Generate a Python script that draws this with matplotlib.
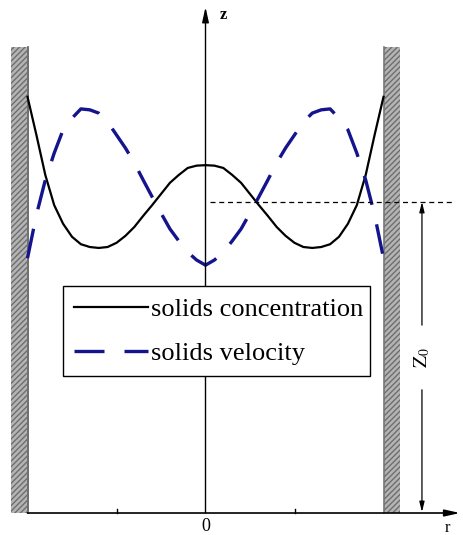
import matplotlib
matplotlib.use("Agg")
import matplotlib.pyplot as plt
from matplotlib.patches import Rectangle

plt.rcParams["font.family"] = ["Liberation Serif", "DejaVu Serif"]
plt.rcParams["mathtext.fontset"] = "stix"

# radial position (r / R) and profiles (z / H)
r = [-1.0, -0.95, -0.9, -0.85, -0.8, -0.75, -0.7, -0.65, -0.6, -0.55, -0.5, -0.45, -0.4,
     -0.35, -0.3, -0.25, -0.2, -0.15, -0.1, -0.05, 0.0,
     0.05, 0.1, 0.15, 0.2, 0.25, 0.3, 0.35, 0.4, 0.45, 0.5, 0.55, 0.6,
     0.65, 0.7, 0.75, 0.8, 0.85, 0.9, 0.95, 1.0]
concentration = [0.895, 0.813, 0.727, 0.662, 0.622, 0.594, 0.578, 0.572, 0.570, 0.572, 0.581, 0.596, 0.615,
                 0.639, 0.662, 0.686, 0.710, 0.727, 0.742, 0.747, 0.748,
                 0.747, 0.742, 0.727, 0.710, 0.686, 0.662, 0.639, 0.615, 0.596, 0.581, 0.572, 0.570,
                 0.572, 0.578, 0.594, 0.622, 0.662, 0.727, 0.813, 0.895]
velocity = [0.548, 0.641, 0.716, 0.774, 0.824, 0.849, 0.869, 0.867, 0.860, 0.841, 0.813, 0.785, 0.753,
            0.716, 0.680, 0.645, 0.611, 0.585, 0.561, 0.544, 0.533,
            0.544, 0.561, 0.585, 0.611, 0.645, 0.680, 0.716, 0.753, 0.785, 0.813, 0.841, 0.860,
            0.867, 0.869, 0.849, 0.824, 0.774, 0.716, 0.641, 0.548]

z0 = 0.669
r_ticks = [-0.5, 0.5]
labels = ["solids concentration", "solids velocity"]

fig = plt.figure(figsize=(4.63, 5.35), dpi=100)
ax = fig.add_axes([0, 0, 1, 1])
ax.set_xlim(-1.1545, 1.4466)
ax.set_ylim(-0.0473, 1.1032)
ax.axis("off")

# column walls
for x0 in (-1.0955, 1.0):
    ax.add_patch(Rectangle((x0, 0), 0.0935, 1.002, facecolor="#b4b4b4",
                           edgecolor="#6e6e6e", hatch="//////", linewidth=0))
ax.plot([-1.0, -1.0], [0, 1.002], color="#555555", lw=1.2)
ax.plot([1.0, 1.0], [0, 1.002], color="#777777", lw=1.2)

# axes with arrows
ax.annotate("", xy=(0, 1.088), xytext=(0, 0),
            arrowprops=dict(arrowstyle="-|>,head_length=0.9,head_width=0.2",
                            color="black", lw=1.0, shrinkA=0, shrinkB=0))
ax.annotate("", xy=(1.43, 0), xytext=(-1.0, 0),
            arrowprops=dict(arrowstyle="-|>,head_length=0.9,head_width=0.2",
                            color="black", lw=1.2, shrinkA=0, shrinkB=0))
for t in r_ticks:
    ax.plot([t, t], [0, 0.008], color="black", lw=1.0)
ax.text(0.08, 1.07, "z", fontsize=12, fontweight="bold", ha="left", va="center")
ax.text(1.36, -0.033, "r", fontsize=12, ha="center", va="center")
ax.text(0, -0.028, "0", fontsize=13, ha="center", va="center")

# profiles
ax.plot(r, concentration, color="black", lw=1.6, label=labels[0])
ax.plot(r, velocity, color="#14148c", lw=2.4, dashes=(9, 6), label=labels[1])

# reference height z0
ax.plot([0.025, 1.40], [z0, z0], color="black", lw=0.9, dashes=(4, 3))
ax.annotate("", xy=(1.216, z0), xytext=(1.216, 0.404),
            arrowprops=dict(arrowstyle="-|>,head_length=0.6,head_width=0.15",
                            color="black", lw=0.9, shrinkA=0, shrinkB=0))
ax.annotate("", xy=(1.216, 0.002), xytext=(1.216, 0.265),
            arrowprops=dict(arrowstyle="-|>,head_length=0.6,head_width=0.15",
                            color="black", lw=0.9, shrinkA=0, shrinkB=0))
ax.text(1.216, 0.335, r"$\mathrm{Z}_0$", fontsize=14, rotation=90,
        ha="center", va="center")

leg = ax.legend(loc="upper left", bbox_to_anchor=(0.136, 0.299, 0.663, 0.166),
                mode="expand", fontsize=19, frameon=True, fancybox=False,
                framealpha=1, borderaxespad=0, borderpad=0.42, labelspacing=0.78,
                handlelength=2.8, handletextpad=0.12)
leg.get_frame().set_edgecolor("black")
leg.get_frame().set_linewidth(1.0)

fig.savefig("out.png", dpi=100)
